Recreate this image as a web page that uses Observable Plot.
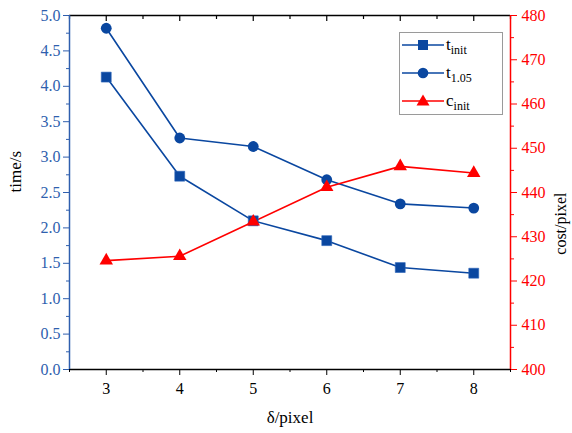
<!DOCTYPE html>
<html>
<head>
<meta charset="utf-8">
<script src="https://cdn.jsdelivr.net/npm/d3@7"></script>
<script src="https://cdn.jsdelivr.net/npm/@observablehq/plot@0.6"></script>
<style>
  html, body { margin: 0; padding: 0; background: #fff; }
  #wrap { position: relative; width: 572px; height: 433px; font-family: "Liberation Serif", "Times New Roman", serif; }
  #wrap svg text { font-family: "Liberation Serif", "Times New Roman", serif; }
  #legend { position: absolute; left: 399px; top: 32px; width: 104px; height: 83px; border: 1px solid #9a9a9a; background: #fff; box-sizing: border-box; }
  .item { position: absolute; left: 2px; height: 24px; display: flex; align-items: center; font-size: 17px; color: #000; }
  .item svg { margin-right: 2px; }
  .item sub { font-size: 12px; vertical-align: -4px; line-height: 0; }
</style>
</head>
<body>
<div id="wrap"></div>
<script>
const deltas = [3, 4, 5, 6, 7, 8];
const tInit = [4.13, 2.73, 2.10, 1.82, 1.44, 1.36];
const t105 = [4.82, 3.27, 3.15, 2.68, 2.34, 2.28];
const cInit = [424.6, 425.6, 433.4, 441.2, 445.9, 444.4];
const timeTicks = [0, 0.5, 1, 1.5, 2, 2.5, 3, 3.5, 4, 4.5, 5];
const timeMinor = [0.25, 0.75, 1.25, 1.75, 2.25, 2.75, 3.25, 3.75, 4.25, 4.75];
const costTicks = [400, 410, 420, 430, 440, 450, 460, 470, 480];
const costMinor = [405, 415, 425, 435, 445, 455, 465, 475];
const xTicks = [3, 4, 5, 6, 7, 8];
const xMinor = [2.5, 3.5, 4.5, 5.5, 6.5, 7.5, 8.5];
const xDomain = [2.5, 8.5];
const timeDomain = [0, 5];
const costDomain = [400, 480];

const BLUE = "#0a47a0";
const AXBLUE = "#2f5fae";
const RED = "#ff0000";
const FONT = '"Liberation Serif", "Times New Roman", serif';

// map cost onto the time (left) scale
const c2t = c => (c - costDomain[0]) / (costDomain[1] - costDomain[0]) * (timeDomain[1] - timeDomain[0]) + timeDomain[0];
const t2c = t => (t - timeDomain[0]) / (timeDomain[1] - timeDomain[0]) * (costDomain[1] - costDomain[0]) + costDomain[0];

const rowsInit = deltas.map((d, i) => ({d, v: tInit[i]}));
const rows105 = deltas.map((d, i) => ({d, v: t105[i]}));
const rowsCost = deltas.map((d, i) => ({d, v: c2t(cInit[i])}));

const chart = Plot.plot({
  width: 572,
  height: 433,
  marginLeft: 69,
  marginRight: 62,
  marginTop: 15,
  marginBottom: 64,
  x: {domain: xDomain},
  y: {domain: timeDomain},
  style: {fontFamily: FONT, fontSize: "16px", background: "#fff"},
  marks: [
    // left axis (time)
    Plot.axisY(timeTicks, {anchor: "left", tickSize: 6, tickPadding: 3, tickFormat: d => d.toFixed(1), stroke: AXBLUE, fill: AXBLUE, label: null, fontSize: 16, fontFamily: FONT}),
    Plot.axisY(timeMinor, {anchor: "left", tickSize: 3, tickFormat: () => "", stroke: AXBLUE, label: null}),
    // right axis (cost)
    Plot.axisY(costTicks.map(c2t), {anchor: "right", tickSize: 6, tickPadding: 5, tickFormat: t => Math.round(t2c(t)), stroke: RED, fill: RED, label: null, fontSize: 16, fontFamily: FONT}),
    Plot.axisY(costMinor.map(c2t), {anchor: "right", tickSize: 3, tickFormat: () => "", stroke: RED, label: null}),
    // bottom axis
    Plot.axisX(xTicks, {anchor: "bottom", tickSize: 6, tickPadding: 7, stroke: "#000", fill: "#000", label: null, fontSize: 16, fontFamily: FONT}),
    Plot.axisX(xMinor, {anchor: "bottom", tickSize: 3, tickFormat: () => "", stroke: "#000", label: null}),
    // top inward ticks
    Plot.tickX(xTicks, {x: d => d, stroke: "#000", strokeWidth: 1.2, insetBottom: 433 - 64 - 15 - 6}),
    Plot.tickX(xMinor, {x: d => d, stroke: "#000", strokeWidth: 1.2, insetBottom: 433 - 64 - 15 - 4}),
    // frame lines
    Plot.ruleY([timeDomain[1]], {stroke: "#000", strokeWidth: 1.5}),
    Plot.ruleY([timeDomain[0]], {stroke: "#000", strokeWidth: 1.5}),
    Plot.ruleX([xDomain[0]], {stroke: AXBLUE, strokeWidth: 1.5}),
    Plot.ruleX([xDomain[1]], {stroke: RED, strokeWidth: 1.5}),
    // series
    Plot.line(rowsInit, {x: "d", y: "v", stroke: BLUE, strokeWidth: 1.6}),
    Plot.line(rows105, {x: "d", y: "v", stroke: BLUE, strokeWidth: 1.6}),
    Plot.line(rowsCost, {x: "d", y: "v", stroke: RED, strokeWidth: 1.6}),
    Plot.dot(rowsInit, {x: "d", y: "v", symbol: "square", r: 5.6, fill: BLUE, stroke: "#2a63b8", strokeWidth: 0.6}),
    Plot.dot(rows105, {x: "d", y: "v", symbol: "circle", r: 5.4, fill: BLUE, stroke: "none"}),
    Plot.dot(rowsCost, {x: "d", y: "v", symbol: "triangle", r: 5.0, fill: RED, stroke: "none"}),
    // axis titles
    Plot.text(["time/s"], {frameAnchor: "left", dx: -54, rotate: -90, lineAnchor: "middle", fill: "#000", fontSize: 17, fontFamily: FONT}),
    Plot.text(["cost/pixel"], {frameAnchor: "right", dx: 50, rotate: -90, lineAnchor: "middle", fill: "#000", fontSize: 16, fontFamily: FONT}),
    Plot.text(["δ/pixel"], {frameAnchor: "bottom", dy: 53, fill: "#000", fontSize: 17, fontFamily: FONT})
  ]
});

const wrap = document.getElementById("wrap");
wrap.appendChild(chart);

// legend (HTML overlay)
const legendItems = [
  {base: "t", sub: "init", color: BLUE, shape: "square"},
  {base: "t", sub: "1.05", color: BLUE, shape: "circle"},
  {base: "c", sub: "init", color: RED, shape: "triangle"}
];
const legend = document.createElement("div");
legend.id = "legend";
legendItems.forEach((it, i) => {
  const div = document.createElement("div");
  div.className = "item";
  div.style.top = (i * 28 + 0) + "px";
  let shape;
  if (it.shape === "square") shape = `<rect x="16" y="7" width="10" height="10" fill="${it.color}"/>`;
  else if (it.shape === "circle") shape = `<circle cx="21" cy="12" r="5.3" fill="${it.color}"/>`;
  else shape = `<path d="M21,5.5 L27.5,16.5 L14.5,16.5 Z" fill="${it.color}"/>`;
  div.innerHTML = `<svg width="42" height="24"><line x1="0" x2="42" y1="12" y2="12" stroke="${it.color}" stroke-width="1.6"/>${shape}</svg><span>${it.base}<sub>${it.sub}</sub></span>`;
  legend.appendChild(div);
});
wrap.appendChild(legend);
</script>
</body>
</html>
